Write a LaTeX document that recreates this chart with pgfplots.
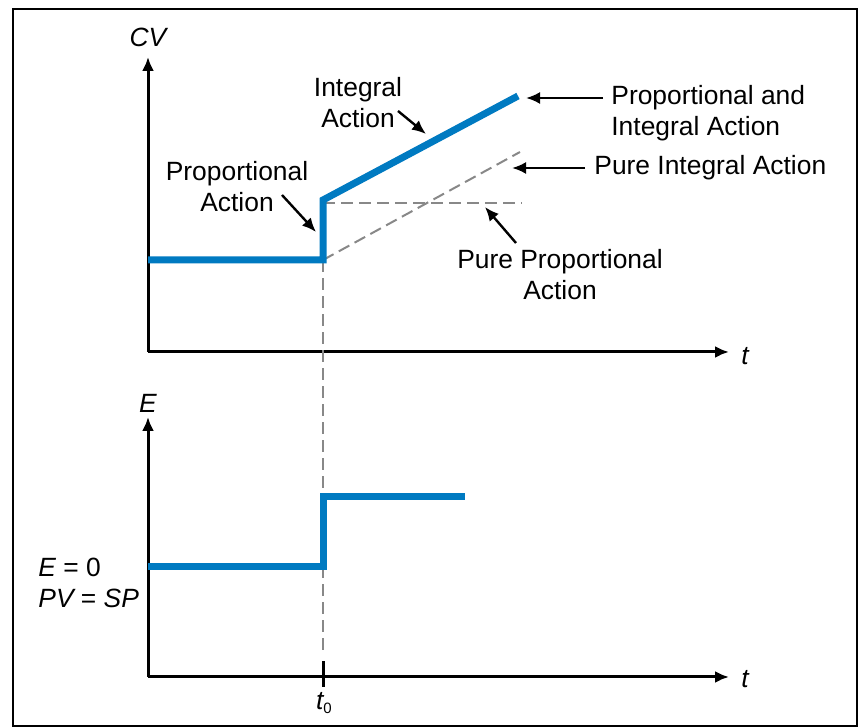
\documentclass[border=0pt]{standalone}
\usepackage{fontspec}
\setmainfont{Liberation Sans}
\usepackage{pgfplots}
\pgfplotsset{compat=1.18}
\usetikzlibrary{arrows.meta}

\definecolor{cvblue}{RGB}{0,122,193}
\definecolor{refgray}{RGB}{136,136,136}

\pgfplotsset{
  sketch/.style={
    scale only axis, anchor=south west,
    axis lines=left, clip=false,
    xmin=0, xmax=581, ymin=0,
    width=290.5pt,
    xtick=\empty, ytick=\empty,
    axis line style={line width=1.5pt, -{Latex[length=7pt,width=6pt]}},
  },
  blueline/.style={cvblue, line width=3.5pt, line join=miter},
  dashline/.style={refgray, line width=1pt, dash pattern=on 6pt off 3pt},
}

\begin{document}
\begin{tikzpicture}[font=\fontsize{13.2}{15.5}\selectfont]
% pixel grid of the reference: 1px = 0.5pt, y downwards
\begin{scope}[x=0.5pt, y=-0.5pt, yshift=364pt]
  \useasboundingbox (0,0) rectangle (859,728);
\end{scope}

% top: controller output CV
\begin{axis}[sketch, at={(74pt,188pt)}, height=147.5pt, ymax=295]
  \addplot[dashline] coordinates {(175,-298) (175,92)};
  \addplot[dashline] coordinates {(175,149) (374,149)};
  \addplot[dashline] coordinates {(175,92) (372,200)};
  \addplot[blueline] coordinates {(0,92) (175,92) (175,152) (370,256)};
\end{axis}

% bottom: error E
\begin{axis}[sketch, at={(74pt,25.5pt)}, height=130pt, ymax=260]
  \addplot[blueline] coordinates {(0,110) (175,110) (175,180) (317,180)};
  \draw[line width=1.5pt] (axis cs:175,-10) -- (axis cs:175,16);
\end{axis}

\begin{scope}[x=0.5pt, y=-0.5pt, yshift=364pt, every node/.style={inner sep=0pt},
    ann/.style={line width=1.2pt, -{Latex[length=7pt,width=6pt]}}]
  \draw[line width=1pt] (13,9) rectangle (857,726);

  \node at (148,37) {\itshape CV};
  \node at (745,356) {\itshape t};
  \node at (148,403) {\itshape E};
  \node at (745,679) {\itshape t};
  \node at (324,703) {\itshape t\raisebox{-0.35ex}{\fontsize{7.5}{8}\selectfont\upshape 0}};

  \node[align=center] at (358,103) {Integral\\Action};
  \draw[ann] (398,111) -- (426,134);

  \node[align=left, anchor=west] at (611,113) {Proportional and\\Integral Action};
  \draw[ann] (603,98) -- (526,98);

  \node[anchor=west] at (594,168) {Pure Integral Action};
  \draw[ann] (585,168) -- (512,168);

  \node[align=center] at (237,187) {Proportional\\Action};
  \draw[ann] (282,195) -- (316,232);

  \node[align=center] at (560,275) {Pure Proportional\\Action};
  \draw[ann] (516,243) -- (485,207);

  \node[anchor=west] at (38,567) {\itshape E\upshape\ = 0};
  \node[anchor=west] at (38,598) {\itshape PV\upshape\ = \itshape SP};
\end{scope}
\end{tikzpicture}
\end{document}
